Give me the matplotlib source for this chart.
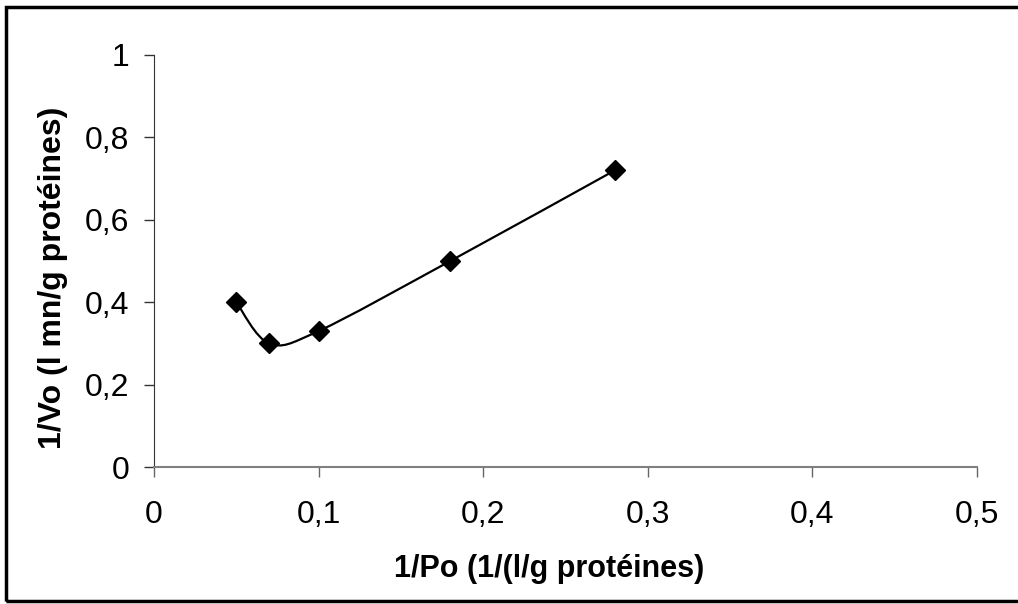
import matplotlib.pyplot as plt
from matplotlib.path import Path
from matplotlib.patches import PathPatch, Rectangle

plt.rcParams['font.family'] = ['Liberation Sans', 'DejaVu Sans']

# données
inv_po = [0.05, 0.07, 0.1, 0.18, 0.28]
inv_vo = [0.40, 0.30, 0.33, 0.50, 0.72]
x_ticks = [0, 0.1, 0.2, 0.3, 0.4, 0.5]
x_labels = ['0', '0,1', '0,2', '0,3', '0,4', '0,5']
y_ticks = [0, 0.2, 0.4, 0.6, 0.8, 1]
y_labels = ['0', '0,2', '0,4', '0,6', '0,8', '1']


def smooth_path(xs, ys):
    # courbe lissée style Excel (Bezier, Catmull-Rom)
    pts = list(zip(xs, ys))
    verts = [pts[0]]
    codes = [Path.MOVETO]
    n = len(pts)
    for i in range(n - 1):
        p0 = pts[i - 1] if i > 0 else pts[i]
        p1 = pts[i]
        p2 = pts[i + 1]
        p3 = pts[i + 2] if i + 2 < n else pts[i + 1]
        c1 = (p1[0] + (p2[0] - p0[0]) / 6, p1[1] + (p2[1] - p0[1]) / 6)
        c2 = (p2[0] - (p3[0] - p1[0]) / 6, p2[1] - (p3[1] - p1[1]) / 6)
        verts += [c1, c2, p2]
        codes += [Path.CURVE4] * 3
    return Path(verts, codes)


fig = plt.figure(figsize=(10.18, 6.04), dpi=100)
ax = fig.add_axes([0.1513, 0.2268, 0.8084, 0.6822])

ax.add_patch(PathPatch(smooth_path(inv_po, inv_vo), facecolor='none',
                       edgecolor='black', lw=1.6))
ax.plot(inv_po, inv_vo, linestyle='none', marker='D', markersize=10,
        color='black')

ax.set_xlim(0, 0.5)
ax.set_ylim(0, 1)
ax.set_xticks(x_ticks)
ax.set_xticklabels(x_labels)
ax.set_yticks(y_ticks)
ax.set_yticklabels(y_labels)
ax.tick_params(axis='both', direction='out', length=7, width=1,
               labelsize=23, colors='#333333', labelcolor='black')
ax.tick_params(axis='x', pad=17, colors='#666666', labelcolor='black')
ax.tick_params(axis='y', pad=11)

ax.spines['top'].set_visible(False)
ax.spines['right'].set_visible(False)
ax.spines['bottom'].set_color('#808080')
ax.spines['left'].set_color('#333333')
ax.spines['bottom'].set_linewidth(1.5)

ax.set_xlabel('1/Po (1/(l/g protéines)', fontsize=22, fontweight='bold')
ax.set_ylabel('1/Vo (l mn/g protéines)', fontsize=23, fontweight='bold')
ax.xaxis.set_label_coords(0.48, -0.212)
ax.yaxis.set_label_coords(-0.105, 0.459)

# cadre du graphique
fig.patches.append(Rectangle((0.006, 0.005), 1.0, 0.983,
                             transform=fig.transFigure, fill=False,
                             edgecolor='black', lw=2.5))

fig.savefig('out.png', dpi=100)
